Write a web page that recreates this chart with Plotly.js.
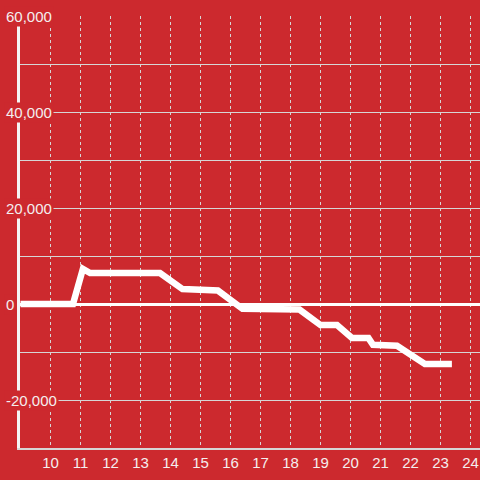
<!DOCTYPE html>
<html>
<head>
<meta charset="utf-8">
<script src="https://cdn.plot.ly/plotly-3.0.1.min.js"></script>
<style>html,body{margin:0;padding:0;background:#CC292E;}#chart{width:480px;height:480px;}</style>
</head>
<body>
<div id="chart"></div>
<script>
// Data
const xValues = [9.0, 10.75, 11.08, 11.32, 13.65, 14.4, 15.58, 16.4, 18.3, 19.0, 19.55, 20.05, 20.6, 20.75, 21.55, 22.48, 23.38];
const yValues = [0, 0, 7300, 6450, 6450, 3100, 2800, -1000, -1150, -4400, -4400, -7100, -7100, -8500, -8700, -12500, -12500];

const xTickVals = [10, 11, 12, 13, 14, 15, 16, 17, 18, 19, 20, 21, 22, 23, 24];
const xTickText = ["10", "11", "12", "13", "14", "15", "16", "17", "18", "19", "20", "21", "22", "23", "24"];
const yLabelVals = [60000, 40000, 20000, 0, -20000];
const yLabelText = ["60,000", "40,000", "20,000", "0", "-20,000"];

const bg = "#CC292E";
const labelColor = "#f4eeee";
const gridColor = "#d6d6d6";

const trace = {
  x: xValues,
  y: yValues,
  type: "scatter",
  mode: "lines",
  line: {color: "#ffffff", width: 6.5, shape: "linear"},
  hoverinfo: "skip"
};

const annotations = yLabelVals.map((v, i) => ({
  xref: "paper", yref: "y",
  x: -0.034, y: v,
  xanchor: "left", yanchor: "middle",
  text: yLabelText[i],
  showarrow: false,
  bgcolor: bg,
  borderpad: 1,
  font: {family: "Liberation Sans, Arial, sans-serif", size: 15, color: labelColor}
}));

const layout = {
  width: 480, height: 480,
  margin: {l: 20, r: 0, t: 16, b: 32, pad: 0},
  paper_bgcolor: bg,
  plot_bgcolor: bg,
  showlegend: false,
  xaxis: {
    range: [8.983, 24.317],
    tickvals: xTickVals,
    ticktext: xTickText,
    showgrid: true,
    gridcolor: gridColor,
    gridwidth: 1,
    griddash: "dot",
    zeroline: false,
    showline: true,
    linecolor: gridColor,
    linewidth: 2,
    ticks: "",
    tickfont: {family: "Liberation Sans, Arial, sans-serif", size: 15, color: labelColor},
    fixedrange: true
  },
  yaxis: {
    range: [-30000, 60000],
    tick0: 0,
    dtick: 10000,
    showticklabels: false,
    showgrid: true,
    gridcolor: gridColor,
    gridwidth: 1,
    zeroline: true,
    zerolinecolor: "#ffffff",
    zerolinewidth: 3,
    showline: true,
    linecolor: "#f4f4f4",
    linewidth: 3,
    ticks: "",
    fixedrange: true
  },
  annotations: annotations
};

Plotly.newPlot("chart", [trace], layout, {displayModeBar: false, staticPlot: true});
</script>
</body>
</html>
